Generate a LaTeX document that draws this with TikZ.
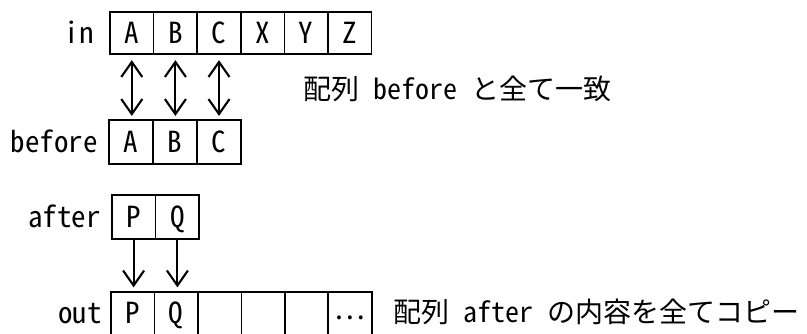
\documentclass[tikz,border=0pt]{standalone}
\usepackage{fontspec}
\setmainfont{Noto Sans Mono CJK JP}
\usetikzlibrary{arrows.meta}
\begin{document}
\begin{tikzpicture}[x=1pt,y=-1pt,line width=1.7pt,
  every node/.style={font=\fontsize{29}{32}\selectfont},
  cell/.style={draw, inner sep=0pt, text height=21.2pt, text depth=0pt},
  lbl/.style={anchor=base east, inner sep=0pt},
  note/.style={anchor=base west, inner sep=0pt, font=\fontsize{28}{32}\selectfont},
  arr/.style={line width=2.1pt},
  barb/.tip={Straight Barb[length=15pt,width=21pt]}]
\path[use as bounding box, clip] (0,0) rectangle (807,333);
% in row
\foreach \t [count=\i] in {A,B,C,X,Y,Z}
  \node[cell, minimum width=43.6pt, minimum height=42.6pt] (in\i) at ({110+43.6*(\i-0.5)},33) {\t};
% before row
\foreach \t [count=\i] in {A,B,C}
  \node[cell, minimum width=43.9pt, minimum height=43.5pt] (before\i) at ({109+43.9*(\i-0.5)},142) {\t};
% after row
\foreach \t [count=\i] in {P,Q}
  \node[cell, minimum width=43.8pt, minimum height=44pt] (after\i) at ({111.7+43.8*(\i-0.5)},217.2) {\t};
% out row
\foreach \t [count=\i] in {P,Q,{},{},{},{\raisebox{4.5pt}{…}}}
  \node[cell, minimum width=43.45pt, minimum height=43pt] (out\i) at ({111+43.45*(\i-0.5)},313.2) {\t};
% labels
\node[lbl] (inlbl) at (94.5,43.5) {in};
\node[lbl] (beforelbl) at (98.5,152.5) {before};
\node[lbl] (afterlbl) at (101.5,227.7) {after};
\node[lbl] (outlbl) at (102.5,323.7) {out};
% notes
\node[note] (note1) at (302.5,99.5) {配列 before と全て一致};
\node[note] (note2) at (392.5,322.5) {配列 after の内容を全てコピー};
% arrows
\foreach \i in {1,2,3}
  \draw[arr, barb-barb, shorten <=5pt, shorten >=3.5pt] (in\i.south) -- (in\i.south |- before\i.north);
\foreach \i in {1,2}
  \draw[arr, -barb, shorten >=3.5pt] (after\i.south) -- (after\i.south |- out\i.north);
\end{tikzpicture}
\end{document}
